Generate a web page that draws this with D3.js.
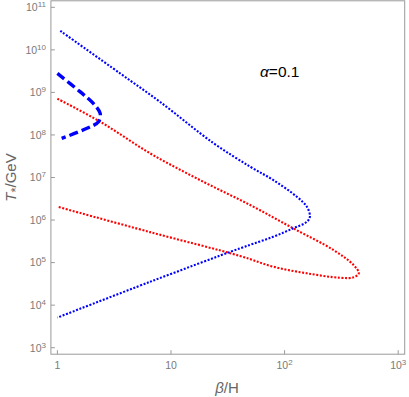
<!DOCTYPE html>
<meta charset="utf-8">
<script src="https://d3js.org/d3.v7.min.js"></script>
<style>
  body { margin: 0; background: #fff; }
  text { font-family: "Liberation Sans", Arial, sans-serif; }
</style>
<div id="chart"></div>
<script>
// curves: [beta/H, T*/GeV]
var blueDotted = [
  [1.06, 2.8e10], [3.56, 2.8e9], [8.0, 6.0e8], [23.5, 6.5e7],
  [49.7, 1.8e7], [79.6, 8.7e6], [128, 3.54e6], [157, 2.06e6],
  [167, 1.2e6], [157, 9.1e5], [119, 6.4e5], [79.6, 4.06e5], [40.6, 2.17e5],
  [6.55, 3.54e4], [1, 5.1e3]
];

var redDotted = [
  [1, 7.1e8], [2.38, 2.05e8], [6.55, 3.7e7], [18.0, 8.7e6], [49.7, 2.26e6],
  [119, 6.4e5], [269, 1.98e5], [404, 8.8e4], [450, 5.6e4], [404, 4.5e4],
  [308, 4.4e4], [157, 5.6e4], [79.6, 8.0e4], [40.6, 1.43e5], [6.55, 5.2e5],
  [1, 2.06e6]
];

var blueDashed = [
  [1, 2.8e9], [1.58, 1.04e9], [2.07, 5.5e8], [2.38, 3.2e8], [2.30, 2.05e8],
  [1.82, 1.43e8], [1.09, 8.3e7]
];

var xTicks = [1, 10, 100, 1000];
var yTicks = [1e3, 1e4, 1e5, 1e6, 1e7, 1e8, 1e9, 1e10, 1e11];

var width = 409, height = 397;
var pad = 6.5;

var x = d3.scaleLog().domain([1, 1000]).range([57.4, 398.2]);
var y = d3.scaleLog().domain([1e3, 1e11]).range([347.7, 7.3]);

var svg = d3.select("#chart").append("svg")
  .attr("width", width)
  .attr("height", height);

// frame
var fx0 = x(1) - pad, fx1 = x(1000) + pad, fy0 = y(1e11) - pad, fy1 = y(1e3) + pad;
svg.append("rect")
  .attr("x", fx0).attr("y", fy0)
  .attr("width", fx1 - fx0).attr("height", fy1 - fy0)
  .attr("fill", "none").attr("stroke", "#9a9a9a").attr("stroke-width", 1);

// ticks
svg.selectAll(".xt").data(xTicks).enter().append("line")
  .attr("x1", d => x(d)).attr("x2", d => x(d))
  .attr("y1", fy1).attr("y2", fy1 - 4)
  .attr("stroke", "#9a9a9a");

svg.selectAll(".yt").data(yTicks).enter().append("line")
  .attr("x1", fx0).attr("x2", fx0 + 4)
  .attr("y1", d => y(d)).attr("y2", d => y(d))
  .attr("stroke", "#9a9a9a");

function powLabel(sel, d) {
  var e = Math.round(Math.log10(d));
  if (e === 0) { sel.append("tspan").text("1"); return; }
  if (e === 1) { sel.append("tspan").text("10"); return; }
  sel.append("tspan").text("10");
  sel.append("tspan").attr("dy", -4).attr("font-size", 8).text(e);
}

svg.selectAll(".xl").data(xTicks).enter().append("text")
  .attr("x", d => x(d)).attr("y", 369)
  .attr("text-anchor", "middle")
  .attr("font-size", 10.5).attr("fill", "#7a7a7a")
  .each(function(d) { powLabel(d3.select(this), d); });

svg.selectAll(".yl").data(yTicks).enter().append("text")
  .attr("x", 46).attr("y", d => y(d) + 3.8)
  .attr("text-anchor", "end")
  .attr("font-size", 10.5).attr("fill", "#7a7a7a")
  .each(function(d) { powLabel(d3.select(this), d); });

// axis labels
var xl = svg.append("text")
  .attr("x", 227).attr("y", 393)
  .attr("text-anchor", "middle")
  .attr("font-size", 15).attr("fill", "#666");
xl.append("tspan").attr("font-style", "italic").text("\u03b2");
xl.append("tspan").text("/H");

var yl = svg.append("text")
  .attr("transform", "translate(16," + ((fy0 + fy1) / 2) + ") rotate(-90)")
  .attr("text-anchor", "middle")
  .attr("font-size", 15).attr("fill", "#666");
yl.append("tspan").attr("font-style", "italic").text("T");
yl.append("tspan").attr("font-size", 13).attr("dy", 4).text("*");
yl.append("tspan").attr("dy", -4).text("/GeV");

// annotation
var ann = svg.append("text")
  .attr("x", 260).attr("y", 77)
  .attr("font-size", 15.5).attr("fill", "#000");
ann.append("tspan").attr("font-style", "italic").text("\u03b1");
ann.append("tspan").text("=0.1");

// curves
var line = d3.line()
  .x(d => x(d[0]))
  .y(d => y(d[1]))
  .curve(d3.curveCatmullRom.alpha(0.5));

var plot = svg.append("g");

plot.append("path").datum(redDotted)
  .attr("d", line).attr("fill", "none")
  .attr("stroke", "#ff0000").attr("stroke-width", 2.1)
  .attr("stroke-dasharray", "2 1.6");

plot.append("path").datum(blueDotted)
  .attr("d", line).attr("fill", "none")
  .attr("stroke", "#0000ff").attr("stroke-width", 2.1)
  .attr("stroke-dasharray", "2 1.6");

plot.append("path").datum(blueDashed)
  .attr("d", line).attr("fill", "none")
  .attr("stroke", "#0000ff").attr("stroke-width", 3.4)
  .attr("stroke-dasharray", "9 4");
</script>
